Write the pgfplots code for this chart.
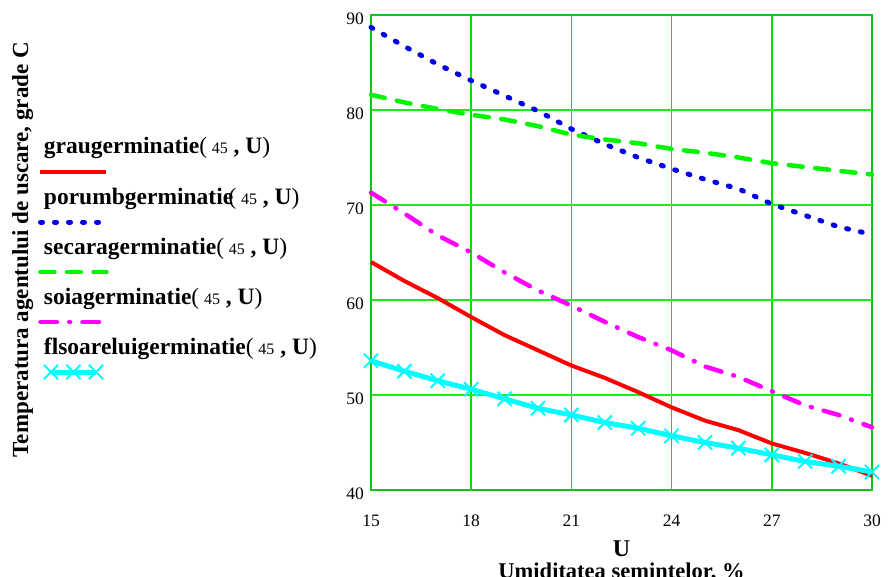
\documentclass[border=0pt]{standalone}
\usepackage{fontspec}
\setmainfont{Liberation Serif}
\usepackage{pgfplots}
\usepackage{pgfplotstable}
\pgfplotsset{compat=1.18}

\definecolor{gridgreen}{RGB}{30,235,30}
\definecolor{vgridgreen}{RGB}{0,225,0}
\definecolor{axgreen}{RGB}{20,195,20}
\definecolor{cred}{RGB}{255,0,0}
\definecolor{cblue}{RGB}{0,0,235}
\definecolor{cgreen}{RGB}{0,245,0}
\definecolor{cmag}{RGB}{255,0,255}
\definecolor{ccyan}{RGB}{0,255,255}

\pgfplotsset{
  mylinelegend/.style={legend image code/.code={\path (0pt,0pt); \draw[##1,overlay] (-1pt,-18pt) -- (65pt,-18pt);}},
  mycrosslegend/.style={legend image code/.code={\path (0pt,0pt); \draw[##1,overlay] plot coordinates {(9.5pt,-18pt) (32pt,-18pt) (54.5pt,-18pt)};}},
}

\newcommand{\argtxt}{(\hspace{0.2em}{\fontsize{16}{16}\selectfont 45}\hspace{0.25em}\textbf{,}\hspace{0.25em}\textbf{U})}

\pgfplotstableread{
U    grau porumb secara soia floarea
15   64.0 88.7   81.6   71.3 53.6
16   62.0 86.7   80.8   69.1 52.5
17   60.2 84.8   80.1   66.8 51.5
18   58.2 83.1   79.5   65.0 50.6
19   56.3 81.5   79.0   62.9 49.6
20   54.7 79.9   78.3   61.0 48.6
21   53.1 78.0   77.4   59.4 47.9
22   51.8 76.4   76.9   57.7 47.1
23   50.3 75.0   76.5   56.1 46.5
24   48.7 73.8   75.9   54.7 45.7
25   47.3 72.7   75.5   53.0 45.0
26   46.3 71.7   75.0   51.9 44.4
27   44.9 70.1   74.4   50.4 43.7
28   43.9 68.9   74.0   48.9 43.0
29   42.8 67.7   73.6   47.9 42.5
30   41.5 66.9   73.2   46.6 41.9
}\data

\begin{document}
\begin{tikzpicture}
\useasboundingbox (0,0) rectangle (888pt,577pt);
\begin{axis}[
  at={(371pt,87pt)}, anchor=south west,
  scale only axis, width=501pt, height=475pt,
  xmin=15, xmax=30, ymin=40, ymax=90,
  xtick={15,18,...,30}, ytick={40,50,...,90},
  xmajorgrids, ymajorgrids,
  major grid style={gridgreen, line width=1.2pt},
  x grid style={vgridgreen, line width=1.6pt},
  y grid style={gridgreen, line width=1.2pt},
  axis line style={axgreen, line width=1.5pt},
  major tick length=0pt,
  tick style={draw=none},
  clip=false,
  tick label style={font=\fontsize{17.5}{20}\selectfont, /pgf/number format/assume math mode=true},
  xticklabel style={anchor=north, inner sep=0pt, yshift=-25pt},
  yticklabel style={anchor=east, inner sep=0pt, xshift=-7pt, yshift=-4pt},
  xlabel={\textbf{U}},
  xlabel style={at={(axis description cs:0.5,-0.14105)}, anchor=base, inner sep=0pt, font=\fontsize{24}{26}\selectfont},
  ylabel={\textbf{Temperatura agentului de uscare, grade C}},
  ylabel style={at={(axis description cs:-0.6846,0.506)}, anchor=base, inner sep=0pt, font=\fontsize{23}{25}\selectfont},
  legend style={at={(axis description cs:-0.66267,0.74105)}, anchor=north west,
    draw=none, fill=none, inner sep=0pt, outer sep=0pt,
    row sep=29pt, column sep=0pt,
    cells={anchor=base west},
    nodes={inner sep=0pt, text height=16pt, text depth=5pt, font=\fontsize{23.5}{25}\selectfont}},
  mylinelegend,
]
\addplot[cred, line width=4pt, line join=round] table[x=U,y=grau]{\data};
\addlegendentry{\textbf{graugerminatie}\argtxt}
\addplot[cblue, line width=5pt, line cap=round, dash pattern=on 2pt off 12pt] table[x=U,y=porumb]{\data};
\addlegendentry{\textbf{porumbgerminatie}\hspace{-0.2em}\argtxt}
\addplot[cgreen, line width=4.5pt, line cap=round, dash pattern=on 14pt off 12.5pt] table[x=U,y=secara]{\data};
\addlegendentry{\textbf{secaragerminatie}\argtxt}
\addplot[cmag, line width=4.5pt, line cap=round, dash pattern=on 16.5pt off 12.25pt on 1pt off 12.25pt] table[x=U,y=soia]{\data};
\addlegendentry{\textbf{soiagerminatie}\argtxt}
\addplot[ccyan, line width=5pt, line join=round, mark=x, mark size=10pt, mark options={line width=2pt, solid}, mycrosslegend]
  table[x=U,y=floarea]{\data};
\addlegendentry{\textbf{flsoareluigerminatie}\argtxt}
\node[anchor=base, inner sep=0pt, font=\bfseries\fontsize{22.5}{24}\selectfont] at (axis description cs:0.5,-0.18737) {Umiditatea semintelor, \%};
\end{axis}
\end{tikzpicture}
\end{document}
